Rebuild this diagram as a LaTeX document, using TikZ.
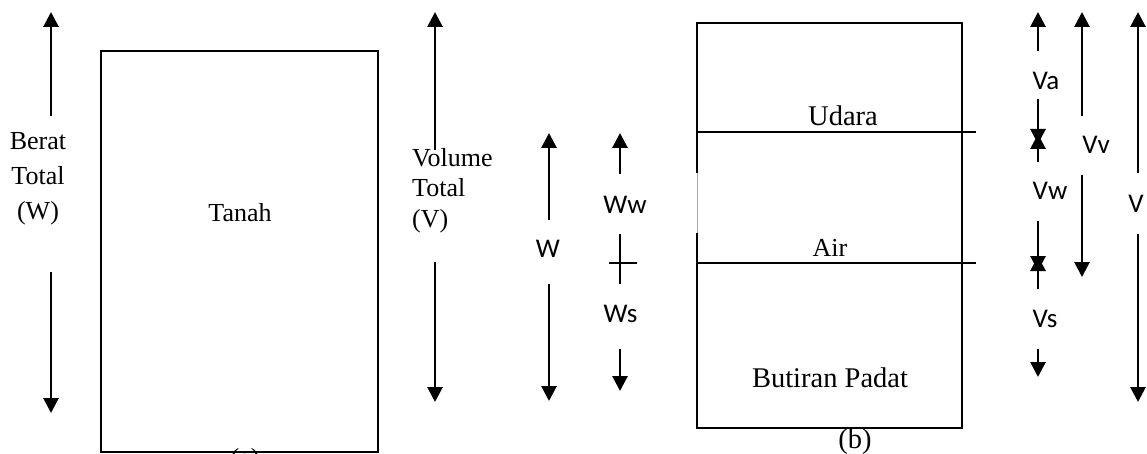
\documentclass[tikz,border=0pt]{standalone}
\usepackage{fontspec}
\setmainfont{Liberation Serif}
\newfontfamily\calib{Carlito}
\usetikzlibrary{arrows.meta}
\tikzset{
  arr/.style={line width=2.8pt, -{Triangle[length=15pt,width=15pt]}},
  serif/.style={inner sep=0pt, font=\fontsize{26}{30}\selectfont},
  serifbig/.style={inner sep=0pt, font=\fontsize{28.5}{32}\selectfont},
  sans/.style={inner sep=0pt, font=\calib\fontsize{27}{30}\selectfont},
  box/.style={line width=2pt},
  rbox/.style={line width=1.7pt},
}
\begin{document}
\begin{tikzpicture}[x=1pt,y=-1pt]
\useasboundingbox (0,0) rectangle (1147,454);
\clip (0,0) rectangle (1147,454);
% ---------- left box ----------
\draw[box] (101,51) rectangle (378,452);
\node[serif, anchor=base] (tanah) at (240,222) {Tanah};
\node[serif, anchor=base] (a) at (245,466) {(a)};
% Berat Total (W)
\node[serif, anchor=base] (bt1) at (38,150) {Berat};
\node[serif, anchor=base] (bt2) at (38,185) {Total};
\node[serif, anchor=base] (bt3) at (38,220) {(W)};
\coordinate (btua) at (51,116); \coordinate (btub) at (51,12);
\coordinate (btda) at (51,272); \coordinate (btdb) at (51,413);
\draw[arr] (btua) -- (btub);
\draw[arr] (btda) -- (btdb);
% Volume Total (V)
\coordinate (vtua) at (435,150); \coordinate (vtub) at (435,12);
\coordinate (vtda) at (435,262); \coordinate (vtdb) at (435,402);
\draw[arr] (vtua) -- (vtub);
\draw[arr] (vtda) -- (vtdb);
\node[serif, anchor=base west] (vt1) at (412,167) {Volume};
\node[serif, anchor=base west] (vt2) at (412,197) {Total};
\node[serif, anchor=base west] (vt3) at (412,227) {(V)};
% W
\node[sans] (W) at (548,248.5) {W};
\coordinate (wua) at (549,220); \coordinate (wub) at (549,133);
\coordinate (wda) at (549,284); \coordinate (wdb) at (549,401);
\draw[arr] (wua) -- (wub);
\draw[arr] (wda) -- (wdb);
% Ww / Ws
\node[sans] (Ww) at (625,204.5) {Ww};
\node[sans] (Ws) at (620.5,313.5) {Ws};
\coordinate (wwua) at (620,174); \coordinate (wwub) at (620,133);
\coordinate (wsda) at (620,349); \coordinate (wsdb) at (620,391);
\draw[arr] (wwua) -- (wwub);
\draw[arr] (wsda) -- (wsdb);
\coordinate (cv1) at (620,234); \coordinate (cv2) at (620,284);
\coordinate (ch1) at (609,263); \coordinate (ch2) at (637,263);
\draw[line width=2.5pt] (cv1) -- (cv2);
\draw[line width=1.5pt] (ch1) -- (ch2);
% ---------- right box ----------
\coordinate (rtl) at (697,23); \coordinate (rtr) at (962,23);
\coordinate (rbl) at (697,428); \coordinate (rbr) at (962,428);
\coordinate (rg1) at (697,173); \coordinate (rg2) at (697,233);
\draw[rbox] (rg1) -- (rtl) -- (rtr) -- (rbr) -- (rbl) -- (rg2);
\draw[line width=0.6pt, black!35] (rg1) -- (rg2);
\coordinate (l1a) at (697,132); \coordinate (l1b) at (976,132);
\coordinate (l2a) at (697,263); \coordinate (l2b) at (976,263);
\draw[rbox] (l1a) -- (l1b);
\draw[rbox] (l2a) -- (l2b);
\node[serifbig, anchor=base] (udara) at (843,126) {Udara};
\node[serif, anchor=base] (air) at (830,256.5) {Air};
\node[serifbig, anchor=base] (padat) at (830,387) {Butiran Padat};
\node[serifbig, anchor=base] (b) at (855,448) {(b)};
% Va, Vw, Vs
\node[sans] (Va) at (1046,80.5) {Va};
\node[sans] (Vw) at (1050,190.5) {Vw};
\node[sans] (Vs) at (1045,319) {Vs};
\coordinate (vaua) at (1038,51); \coordinate (vaub) at (1038,12);
\coordinate (vada) at (1038,99); \coordinate (vadb) at (1038,144);
\coordinate (vwua) at (1038,162); \coordinate (vwub) at (1038,134);
\coordinate (vwda) at (1038,221); \coordinate (vwdb) at (1038,271);
\coordinate (vsua) at (1038,289); \coordinate (vsub) at (1038,256);
\coordinate (vsda) at (1038,349); \coordinate (vsdb) at (1038,377);
\draw[arr] (vaua) -- (vaub);
\draw[arr] (vada) -- (vadb);
\draw[arr] (vwua) -- (vwub);
\draw[arr] (vwda) -- (vwdb);
\draw[arr] (vsua) -- (vsub);
\draw[arr] (vsda) -- (vsdb);
% Vv
\node[sans] (Vv) at (1096,145) {Vv};
\coordinate (vvua) at (1082,116); \coordinate (vvub) at (1082,12);
\coordinate (vvda) at (1082,175); \coordinate (vvdb) at (1082,277);
\draw[arr] (vvua) -- (vvub);
\draw[arr] (vvda) -- (vvdb);
% V
\node[sans] (V) at (1136,204) {V};
\coordinate (vua) at (1138,173); \coordinate (vub) at (1138,12);
\coordinate (vda) at (1138,234); \coordinate (vdb) at (1138,402);
\draw[arr] (vua) -- (vub);
\draw[arr] (vda) -- (vdb);
\end{tikzpicture}
\end{document}
